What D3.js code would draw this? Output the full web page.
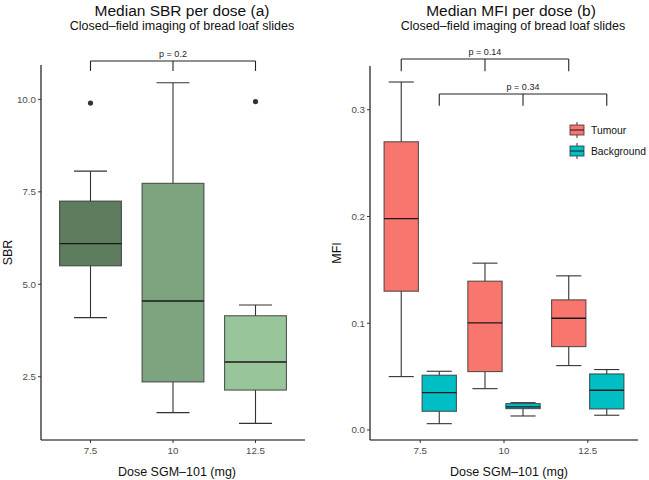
<!DOCTYPE html>
<html><head><meta charset="utf-8">
<script src="https://cdn.jsdelivr.net/npm/d3@7"></script>
<style>body{margin:0;background:#fff;}svg{display:block;font-family:"Liberation Sans",Arial,Helvetica,sans-serif;}</style>
</head><body><svg id="c" width="649" height="480"></svg>
<script>
// ---- data ----
const doses = ["7.5", "10", "12.5"];
// SBR boxes: [lowerWhisker, Q1, median, Q3, upperWhisker]
const sbrStats = [[4.10, 5.50, 6.10, 7.25, 8.06], [1.53, 2.36, 4.55, 7.73, 10.45], [1.24, 2.14, 2.90, 4.15, 4.44]];
const sbrOutliers = [[9.90], [], [9.94]];
const sbrColors = ["#5e7d5e", "#7ea47f", "#99c59b"];
const sbrTicks = [2.5, 5.0, 7.5, 10.0];
const groups = ["Tumour", "Background"];
const groupColors = ["#F8766D", "#00BFC4"];
const mfiTumour = [[0.050, 0.130, 0.198, 0.270, 0.326], [0.0387, 0.0547, 0.1003, 0.1394, 0.1563], [0.0603, 0.0781, 0.1047, 0.1219, 0.1444]];
const mfiBackground = [[0.0059, 0.0175, 0.035, 0.0513, 0.055], [0.0131, 0.0200, 0.0216, 0.0247, 0.0256], [0.0138, 0.0197, 0.0372, 0.0525, 0.0566]];
const mfiTicks = [0.0, 0.1, 0.2, 0.3];
const sbrPvals = [{label: "p = 0.2", y: 11.04, tip: 10.77}];
const mfiPvals = [{label: "p = 0.14", group: 0, y: 0.3475, tip: 0.336}, {label: "p = 0.34", group: 1, y: 0.3147, tip: 0.3037}];

const svg = d3.select("#c");
const outline = "#333333";

function drawBox(g, cx, w, capW, s, y, fill) {
  g.append("line").attr("x1", cx).attr("x2", cx).attr("y1", y(s[0])).attr("y2", y(s[1])).attr("stroke", outline).attr("stroke-width", 1.1);
  g.append("line").attr("x1", cx).attr("x2", cx).attr("y1", y(s[3])).attr("y2", y(s[4])).attr("stroke", outline).attr("stroke-width", 1.1);
  g.append("line").attr("x1", cx - capW/2).attr("x2", cx + capW/2).attr("y1", y(s[0])).attr("y2", y(s[0])).attr("stroke", outline).attr("stroke-width", 1.1);
  g.append("line").attr("x1", cx - capW/2).attr("x2", cx + capW/2).attr("y1", y(s[4])).attr("y2", y(s[4])).attr("stroke", outline).attr("stroke-width", 1.1);
  g.append("rect").attr("x", cx - w/2).attr("width", w).attr("y", y(s[3])).attr("height", y(s[1]) - y(s[3]))
    .attr("fill", fill).attr("stroke", outline).attr("stroke-opacity", 0.8).attr("stroke-width", 1.1);
  g.append("line").attr("x1", cx - w/2).attr("x2", cx + w/2).attr("y1", y(s[2])).attr("y2", y(s[2])).attr("stroke", "#1a1a1a").attr("stroke-width", 1.4);
}

function axes(left, right, top, bottom, x, y, ticks, fmt) {
  const g = svg.append("g");
  g.append("line").attr("x1", left).attr("x2", left).attr("y1", top).attr("y2", bottom).attr("stroke", "#000").attr("stroke-width", 1.1);
  g.append("line").attr("x1", left).attr("x2", right).attr("y1", bottom).attr("y2", bottom).attr("stroke", "#000").attr("stroke-width", 1.1);
  ticks.forEach(t => {
    g.append("line").attr("x1", left - 3).attr("x2", left).attr("y1", y(t)).attr("y2", y(t)).attr("stroke", "#333");
    g.append("text").attr("x", left - 5).attr("y", y(t)).attr("dy", "0.35em").attr("text-anchor", "end")
      .attr("font-size", 9.8).attr("fill", "#4d4d4d").text(fmt(t));
  });
  doses.forEach(d => {
    g.append("line").attr("x1", x(d)).attr("x2", x(d)).attr("y1", bottom).attr("y2", bottom + 3).attr("stroke", "#333");
    g.append("text").attr("x", x(d)).attr("y", bottom + 14).attr("text-anchor", "middle")
      .attr("font-size", 9.8).attr("fill", "#4d4d4d").text(d);
  });
}

function bracket(xs, yv, tipv, label, y) {
  const g = svg.append("g");
  g.append("line").attr("x1", xs[0]).attr("x2", xs[2]).attr("y1", y(yv)).attr("y2", y(yv)).attr("stroke", "#222").attr("stroke-width", 1.1);
  xs.forEach(xx => g.append("line").attr("x1", xx).attr("x2", xx).attr("y1", y(yv)).attr("y2", y(tipv)).attr("stroke", "#222").attr("stroke-width", 1.1));
  g.append("text").attr("x", xs[1]).attr("y", y(yv) - 4).attr("text-anchor", "middle").attr("font-size", 9).attr("fill", "#222").text(label);
}

// ---- left panel ----
{
  const L = 41, R = 305, T = 65, B = 440;
  const x = d3.scalePoint().domain(doses).range([L, R]).padding(0.6);
  const y = d3.scaleLinear().domain([0.79, 10.93]).range([B, T]);
  const step = x.step();
  const g = svg.append("g");
  sbrStats.forEach((s, i) => drawBox(g, x(doses[i]), step * 0.75, step * 0.4, s, y, sbrColors[i]));
  sbrOutliers.forEach((o, i) => o.forEach(v => g.append("circle").attr("cx", x(doses[i])).attr("cy", y(v)).attr("r", 2.6).attr("fill", "#333")));
  axes(L, R, T, B, x, y, sbrTicks, d3.format(".1f"));
  sbrPvals.forEach(p => bracket(doses.map(d => x(d)), p.y, p.tip, p.label, y));
  svg.append("text").attr("x", 182).attr("y", 16).attr("text-anchor", "middle").attr("font-size", 15.5).attr("fill", "#111").text("Median SBR per dose (a)");
  svg.append("text").attr("x", 182).attr("y", 30).attr("text-anchor", "middle").attr("font-size", 12.5).attr("fill", "#111").text("Closed\u2013field imaging of bread loaf slides");
  svg.append("text").attr("x", (L + R) / 2 + 4).attr("y", 476).attr("text-anchor", "middle").attr("font-size", 12.5).attr("fill", "#111").text("Dose SGM\u2013101 (mg)");
  svg.append("text").attr("transform", `translate(12,${(T + B) / 2}) rotate(-90)`).attr("text-anchor", "middle").attr("font-size", 12.5).attr("fill", "#111").text("SBR");
}

// ---- right panel ----
{
  const L = 370, R = 638, T = 66, B = 440;
  const x = d3.scalePoint().domain(doses).range([L, R]).padding(0.6);
  const y = d3.scaleLinear().domain([-0.0094, 0.341]).range([B, T]);
  const step = x.step();
  const off = step * 0.227, w = step * 0.41, cap = step * 0.3;
  const g = svg.append("g");
  const sets = [mfiTumour, mfiBackground];
  sets.forEach((set, gi) => set.forEach((s, i) => drawBox(g, x(doses[i]) + (gi === 0 ? -off : off), w, cap, s, y, groupColors[gi])));
  axes(L, R, T, B, x, y, mfiTicks, d3.format(".1f"));
  mfiPvals.forEach(p => bracket(doses.map(d => x(d) + (p.group === 0 ? -off : off)), p.y, p.tip, p.label, y));
  // legend
  const lg = svg.append("g");
  groups.forEach((name, i) => {
    const cy = 130 + i * 21;
    lg.append("line").attr("x1", 577).attr("x2", 577).attr("y1", cy - 8).attr("y2", cy + 8).attr("stroke", outline);
    lg.append("rect").attr("x", 570).attr("y", cy - 5).attr("width", 14).attr("height", 10).attr("fill", groupColors[i]).attr("stroke", outline).attr("stroke-opacity", 0.8);
    lg.append("line").attr("x1", 570).attr("x2", 584).attr("y1", cy).attr("y2", cy).attr("stroke", "#1a1a1a");
    lg.append("text").attr("x", 591).attr("y", cy).attr("dy", "0.35em").attr("font-size", 10.3).attr("fill", "#111").text(name);
  });
  svg.append("text").attr("x", 511).attr("y", 16).attr("text-anchor", "middle").attr("font-size", 15.5).attr("fill", "#111").text("Median MFI per dose (b)");
  svg.append("text").attr("x", 513).attr("y", 30).attr("text-anchor", "middle").attr("font-size", 12.5).attr("fill", "#111").text("Closed\u2013field imaging of bread loaf slides");
  svg.append("text").attr("x", 509).attr("y", 476).attr("text-anchor", "middle").attr("font-size", 12.5).attr("fill", "#111").text("Dose SGM\u2013101 (mg)");
  svg.append("text").attr("transform", `translate(341,${(T + B) / 2}) rotate(-90)`).attr("text-anchor", "middle").attr("font-size", 12.5).attr("fill", "#111").text("MFI");
}
</script></body></html>
